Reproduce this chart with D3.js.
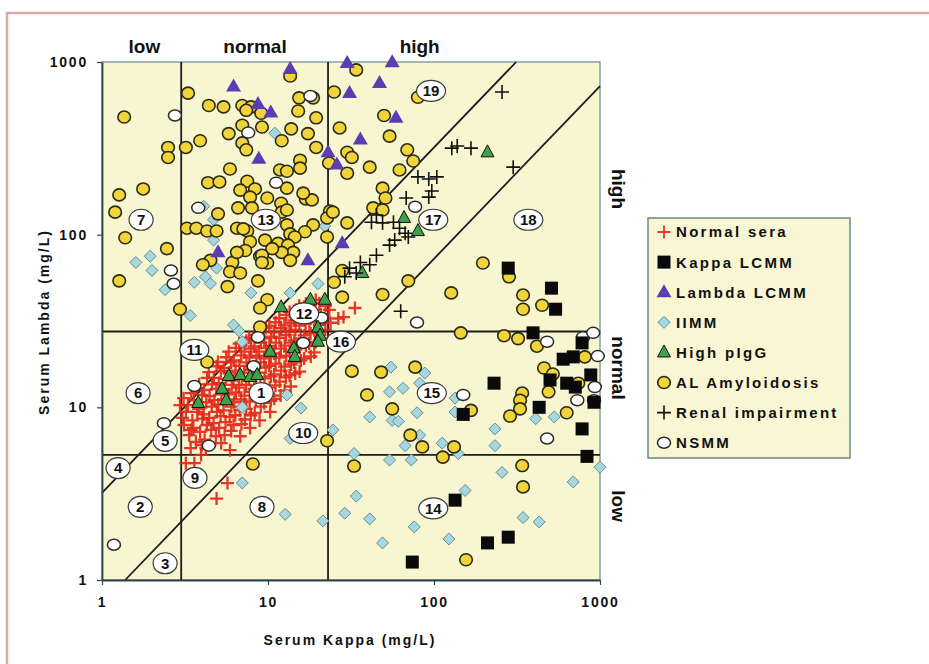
<!DOCTYPE html>
<html>
<head>
<meta charset="utf-8">
<script src="https://cdn.jsdelivr.net/npm/d3@7"></script>
<style>
  body { margin: 0; background: #fff; }
  svg text { font-family: Arial, "Liberation Sans", sans-serif; font-weight: bold; fill: #111; }
</style>
</head>
<body>
<svg width="929" height="664"></svg>
<script>
// values are [serum kappa, serum lambda] in mg/L
const normalSera = [
  [2.95,10.3],[3.05,8.7],
  [3.1,11.3],[3.2,9.4],[3.12,7.9],
  [3.45,12.1],[3.3,10.3],[3.5,8.4],[3.35,6.9],[3.42,5.8],
  [3.7,12.9],[3.58,11.0],[3.75,9.4],[3.55,7.6],[3.68,6.3],[3.6,4.75],
  [3.85,13.6],[4.0,11.8],[3.82,9.8],[4.02,8.6],[3.9,7.2],[3.95,5.3],
  [4.3,14.8],[4.12,12.6],[4.25,10.7],[4.1,9.1],[4.28,7.9],[4.15,6.5],[4.22,5.8],
  [4.4,16],[4.6,13.6],[4.45,11.6],[4.58,10.1],[4.42,8.7],[4.55,7.4],[4.48,6.05],
  [4.9,17.3],[4.72,14.8],[4.88,12.8],[4.75,11.0],[4.92,9.4],[4.7,8.1],[4.85,6.8],
  [5.0,18.3],[5.2,16.2],[5.05,13.8],[5.25,11.9],[5.02,10.4],[5.18,8.9],[5.08,7.6],[5.22,6.2],
  [5.6,19.5],[5.42,16.9],[5.58,14.6],[5.45,12.7],[5.62,11.1],[5.4,9.6],[5.55,8.2],[5.48,6.9],
  [5.8,21],[6.0,18.2],[5.85,15.9],[6.05,13.5],[5.82,11.9],[6.02,10.1],[5.88,8.8],[6.0,7.3],[5.9,5.65],
  [6.4,22.1],[6.22,18.7],[6.38,16.3],[6.2,14.3],[6.42,12.2],[6.25,10.7],[6.35,9.0],[6.2,7.9],
  [6.7,23.4],[6.9,20],[6.72,17.4],[6.95,14.8],[6.68,13],[6.88,11.1],[6.75,9.6],[6.92,8.0],[6.8,6.8],
  [7.4,24.3],[7.2,21],[7.42,18.2],[7.18,15.9],[7.38,13.5],[7.22,11.7],[7.4,9.8],[7.25,8.5],
  [7.7,25.3],[7.92,21.9],[7.72,19.4],[7.95,16.5],[7.68,14.5],[7.9,12.3],[7.75,10.8],[7.88,9.0],[7.8,7.6],
  [8.5,26.3],[8.28,22.5],[8.52,19.9],[8.3,17.2],[8.48,15],[8.25,12.8],[8.45,11.1],[8.32,9.3],
  [8.8,27.4],[9.05,23.7],[8.82,21],[9.02,18.2],[8.85,15.9],[9.0,13.5],[8.78,11.9],[9.05,10.1],[8.9,8.4],
  [9.7,28.9],[9.5,25.1],[9.72,22.1],[9.48,19.2],[9.68,17],[9.52,14.7],[9.7,12.7],[9.5,10.6],
  [10.2,29.7],[10.45,25.7],[10.2,22.7],[10.4,19.7],[10.15,17.4],[10.42,15.1],[10.22,13],[10.4,10.9],[10.3,9.4],
  [11.1,31.1],[10.85,27.2],[11.15,23.7],[10.9,20.5],[11.12,17.9],[10.88,15.5],[11.1,13.4],[10.9,11.2],
  [11.7,32.8],[12.0,28.7],[11.72,25.3],[11.95,21.9],[11.7,19.4],[11.98,16.3],[11.75,14.1],[11.9,11.7],
  [12.9,34.3],[12.55,29.8],[12.85,26.3],[12.6,22.8],[12.88,19.9],[12.58,17.2],[12.8,14.9],[12.6,12.5],
  [13.5,35.7],[13.8,30.9],[13.45,27.4],[13.75,23.7],[13.5,21],[13.78,17.7],[13.48,15.3],[13.7,13.2],
  [14.7,36.7],[14.35,31.9],[14.65,28.1],[14.4,24.4],[14.7,21.6],[14.38,18.2],[14.6,15.7],
  [15.4,38.7],[15.8,33.5],[15.45,29.7],[15.75,25.1],[15.5,22.1],[15.8,18.7],[15.5,16.1],
  [16.9,39.8],[16.5,34.6],[16.85,30.5],[16.55,26.1],[16.9,22.7],[16.5,19.2],
  [17.7,40.9],[18.1,35.5],[17.75,31.1],[18.05,26.8],[17.7,23.4],[18.1,19.7],
  [19.4,41.9],[19.0,36.5],[19.35,32.1],[19.05,27.9],[19.4,23.9],[19.0,20.8],
  [20.4,40.1],[20.8,34.6],[20.45,30],[20.75,25.1],
  [22.2,38.7],[21.8,32.6],[22.15,28.1],
  [23.4,36.7],[23.8,30.9],
  [26.5,32.7],[28.5,33.3],[33.4,37.6],
  [3.2,4.75],[4.9,2.96],[5.7,3.64],[4.0,6.05],[3.45,7.4]
];

const kappaLCMM = [
  [280,64],[510,49],[540,37],[395,27],[780,23.6],[600,19],[690,19.6],[880,15.4],[500,14.4],
  [630,13.8],[710,13.1],[920,10.7],[230,13.8],[430,10],[150,9.1],[780,7.5],[835,5.2],
  [134,2.9],[210,1.64],[280,1.77],[74,1.27]
];

const lambdaLCMM = [
  [6.2,720],[8.7,570],[10.4,510],[8.8,275],[13.6,910],[30,985],[56,995],[31,660],
  [47,755],[59,475],[36,355],[23,300],[26,255],[5.0,79],[17.4,71],[28,89]
];

const iimm = [
  [11,387],[4.1,146],[4.7,122],[4.7,93],[4.9,64],[4.2,57],[4.5,52],[3.6,53],[2.4,48],[3.4,34],
  [1.6,69],[1.95,75],[2.0,62],[7.9,46],[13.6,46],[20,52],[22,112],[6.2,30],[6.7,27.7],[7.0,24],
  [13,11.8],[15.8,9.9],[7.0,10],[24.6,7.4],[13.6,6.6],[7.0,3.65],[12.7,2.4],[21.4,2.2],[29,2.44],
  [55,17.1],[88,15.8],[54,12.3],[65,12.9],[82,13.8],[134,11.3],[79,9.3],[41,8.8],[56,8.4],[61,8.3],
  [134,9.4],[233,7.5],[233,6.0],[410,8.6],[530,8.8],[67,6.0],[82,6.9],[112,6.2],[140,5.4],
  [54,4.95],[73,4.95],[33,5.4],[257,4.2],[690,3.7],[1000,4.5],[34,3.06],[41,2.26],[154,3.3],
  [344,2.3],[430,2.17],[76,2.03],[49,1.64],[123,1.73]
];

const highPIgG = [
  [210,300],[66,125],[80,105],[37,60],[12,38],[18,42],[22,42],[20,29],[20.6,26],[20,24],
  [10.3,21],[14.3,22],[14.5,19.6],[5.8,15.2],[6.8,15.4],[7.8,15],[8.6,15.4],[5.3,12.8],[5.6,11],[3.8,10.6]
];

const alAmyloidosis = [
  [1.36,480],[2.5,320],[2.5,280],[3.2,320],[1.27,170],[1.77,184],[1.2,135],[1.38,96],[2.46,83],[1.27,54],[2.95,37],
  [3.3,660],[4.4,560],[5.4,550],[7.0,560],[7.9,550],[9.1,505],[7.4,525],[13.6,830],[15.4,620],[18.7,620],[15.2,520],[25,670],[19.5,475],[27,415],
  [3.9,350],[5.8,385],[7.0,430],[9.2,420],[7.0,340],[7.4,310],[12.1,350],[13.8,410],[17.4,385],[19.5,320],[15.6,270],[15.6,243],[11.8,237],[13,233],[23.3,260],[30,300],
  [5.9,240],[4.35,200],[5.1,202],[7.5,204],[6.8,181],[8.35,184],[9.9,163],[7.8,165],[12,152],[13,186],[16.9,161],[18.4,159],
  [5.0,132],[6.6,143],[8.0,143],[12.1,135],[13,139],[23.6,137],[22.7,125],[22.7,97],[18.7,114],[16.7,104],[13,114],[13.6,101],[14.5,97],
  [6.5,109],[7.5,105],[7.8,91],[9.6,93],[11.5,89],[13.2,87],[14.2,79],[12.1,79],[10.6,83],[7.3,81],[8.95,75],[9.9,68.5],[13.6,71],
  [3.25,109],[3.7,109],[4.3,105],[4.9,105],[4.5,71],[4.05,67],[6.1,69],[5.9,61],[6.8,60],[5.7,50],[8.7,54],[9.9,42],[25,53],
  [34,900],[50,490],[54,372],[69,310],[32,280],[41,246],[30,227],[62,237],[75,267],[49,186],[51,163],[43,143],[49,139],[30,117],[24.6,135],
  [28,62],[28,43.5],[49,45],[70,54],[127,46],[197,68.5],[80,625],[16.3,174],[7.1,108],[6.5,79],[9.2,76],[9.2,69],[8.95,37.6],[8.95,29.2],[4.3,18.3],[8.1,4.7],[22.7,6.4],
  [283,57],[344,44.7],[344,37],[448,39],[145,27],[264,26],[321,25],[417,22.6],[32,16.2],[48,16],[77,17.1],[460,16.9],[520,15.6],[810,19.6],[740,13.8],[490,12.3],[340,12.1],[330,11],
  [39.5,11.8],[56,9.8],[167,9.6],[630,9.3],[330,9.8],[287,8.9],[72,6.9],[85,5.9],[132,5.9],[113,5.15],[33,4.57],[340,4.6],[344,3.46],[156,1.31]
];

const renalImpairment = [
  [257,670],[128,317],[138,326],[167,317],[300,246],[80,216],[93,210],[104,216],[68,163],[93,165],
  [97,179],[45,130],[42,118],[49,117],[57,118],[62,109],[67,102],[70,97],[58,93],[54,87],[45,76],
  [41,67],[36,69],[31,64],[34,60],[29,57],[63,36]
];

const nsmm = [
  [2.75,490],[7.6,390],[18,635],[11.2,200],[3.8,143],[2.6,62],[2.7,52],[8.7,25.5],[16.3,23.6],[21,33],
  [8.2,17.3],[3.6,13.3],[2.36,8.1],[4.4,6.0],[1.18,1.6],[77,145],[79,31],[790,25.5],[910,27],[480,24],
  [970,19.8],[930,13.1],[730,11],[920,11],[150,11.8],[480,6.6]
];

// reference-range cut-offs and kappa/lambda ratio lines
const kappaCuts = [3.0, 23];
const lambdaCuts = [5.3, 27.5];
const ratioLines = [3.2, 0.725]; // lambda = r * kappa

const tickValues = [1, 10, 100, 1000];
const topLabels = [[1.8, 'low'], [8.35, 'normal'], [82, 'high']];
const sideLabels = [[184, 'high'], [16.9, 'normal'], [2.68, 'low']];

const regionIds = ['1','2','3','4','5','6','7','8','9','10','11','12','13','14','15','16','17','18','19'];
const regionPos = [
  [9.1,12.1],[1.7,2.65],[2.4,1.25],[1.25,4.45],[2.4,6.4],[1.65,12.1],[1.72,122],[9.2,2.65],[3.63,3.9],
  [16.3,7.1],[3.6,21.5],[16.5,35],[9.7,122],[99,2.6],[97,12.1],[27.5,24],[99,122],[370,122],[96,680]
];

const legendLabels = ['Normal sera','Kappa LCMM','Lambda LCMM','IIMM','High pIgG','AL Amyloidosis','Renal impairment','NSMM'];

const svg = d3.select('svg');
const width = +svg.attr('width');
const height = +svg.attr('height');

// outer frame
svg.append('rect')
  .attr('x', 7).attr('y', 13)
  .attr('width', width).attr('height', height)
  .attr('fill', '#fff')
  .attr('stroke', '#d8aaa8')
  .attr('stroke-width', 2.5);

const xScale = d3.scaleLog().domain([1, 1000]).range([102, 600]);
const yScale = d3.scaleLog().domain([1, 1000]).range([580, 62]);
const [x0, x1] = xScale.range();
const [y0, y1] = yScale.range();

svg.append('rect')
  .attr('x', x0).attr('y', y1)
  .attr('width', x1 - x0).attr('height', y0 - y1)
  .attr('fill', '#f8f6d1')
  .attr('stroke', '#86a0a0')
  .attr('stroke-width', 1.5);

// cut-off lines
const lines = svg.append('g').attr('stroke', '#1c1c1c').attr('stroke-width', 1.8);
kappaCuts.forEach(k => lines.append('line')
  .attr('x1', xScale(k)).attr('x2', xScale(k))
  .attr('y1', y0).attr('y2', y1));
lambdaCuts.forEach(l => lines.append('line')
  .attr('x1', x0).attr('x2', x1)
  .attr('y1', yScale(l)).attr('y2', yScale(l)));
ratioLines.forEach(r => {
  const kStart = Math.max(1, 1 / r);
  const kEnd = Math.min(1000, 1000 / r);
  lines.append('line')
    .attr('x1', xScale(kStart)).attr('y1', yScale(r * kStart))
    .attr('x2', xScale(kEnd)).attr('y2', yScale(r * kEnd));
});

// axes
const xAxis = d3.axisBottom(xScale)
  .tickValues(tickValues)
  .tickFormat(d3.format('d'))
  .tickSize(5).tickSizeOuter(0)
  .tickPadding(12);
const yAxis = d3.axisLeft(yScale)
  .tickValues(tickValues)
  .tickFormat(d3.format('d'))
  .tickSize(5).tickSizeOuter(0)
  .tickPadding(9);

const xAxisG = svg.append('g')
  .attr('transform', `translate(0,${y0})`)
  .call(xAxis);
const yAxisG = svg.append('g')
  .attr('transform', `translate(${x0},0)`)
  .call(yAxis);

[xAxisG, yAxisG].forEach(g => {
  g.attr('color', '#2c4646');
  g.select('.domain').attr('stroke-width', 1.8);
  g.selectAll('.tick line').attr('stroke-width', 1.2);
  g.selectAll('text')
    .attr('font-family', 'Arial, "Liberation Sans", sans-serif')
    .attr('font-weight', 'bold')
    .attr('font-size', 14)
    .style('letter-spacing', '1.8px')
    .attr('fill', '#111');
});

svg.append('text')
  .attr('x', 350).attr('y', 645)
  .attr('text-anchor', 'middle')
  .attr('font-size', 14)
  .style('letter-spacing', '2px')
  .text('Serum Kappa (mg/L)');

svg.append('text')
  .attr('transform', 'translate(49,322) rotate(-90)')
  .attr('text-anchor', 'middle')
  .attr('font-size', 14)
  .style('letter-spacing', '2px')
  .text('Serum Lambda (mg/L)');

// range labels
svg.selectAll('.top-label').data(topLabels)
  .enter().append('text')
    .attr('class', 'top-label')
    .attr('x', d => xScale(d[0]))
    .attr('y', 53)
    .attr('text-anchor', 'middle')
    .attr('font-size', 19)
    .text(d => d[1]);

svg.selectAll('.side-label').data(sideLabels)
  .enter().append('text')
    .attr('class', 'side-label')
    .attr('transform', d => `translate(612,${yScale(d[0])}) rotate(90)`)
    .attr('text-anchor', 'middle')
    .attr('font-size', 19)
    .text(d => d[1]);

// marker shapes
const plusPath = s => `M${-s},0H${s}M0,${-s}V${s}`;
const diamondPath = s => `M0,${-s}L${s},0L0,${s}L${-s},0Z`;
const trianglePath = (w, h) => `M0,${-h * 0.62}L${w / 2},${h * 0.38}L${-w / 2},${h * 0.38}Z`;

const markers = {
  'Normal sera': g => g.append('path').attr('d', plusPath(6.5))
    .attr('fill', 'none').attr('stroke', '#e2281a').attr('stroke-width', 2.3).attr('stroke-opacity', 0.92),
  'Kappa LCMM': g => g.append('rect').attr('x', -6.5).attr('y', -6.5).attr('width', 13).attr('height', 13)
    .attr('fill', '#0a0a0a'),
  'Lambda LCMM': g => g.append('path').attr('d', trianglePath(15, 13))
    .attr('fill', '#5a3db0'),
  'IIMM': g => g.append('path').attr('d', diamondPath(6))
    .attr('fill', '#a6d6de').attr('stroke', '#5e8e96').attr('stroke-width', 1),
  'High pIgG': g => g.append('path').attr('d', trianglePath(13, 12))
    .attr('fill', '#3da34a').attr('stroke', '#111').attr('stroke-width', 1),
  'AL Amyloidosis': g => g.append('ellipse').attr('rx', 6.3).attr('ry', 6)
    .attr('fill', '#f0d43a').attr('stroke', '#2a2a1a').attr('stroke-width', 1.6),
  'Renal impairment': g => g.append('path').attr('d', plusPath(7))
    .attr('fill', 'none').attr('stroke', '#111').attr('stroke-width', 1.6),
  'NSMM': g => g.append('ellipse').attr('rx', 6.5).attr('ry', 5.5)
    .attr('fill', '#fff').attr('stroke', '#2a2a2a').attr('stroke-width', 1.5)
};

const seriesOrder = [
  ['Normal sera', normalSera],
  ['IIMM', iimm],
  ['AL Amyloidosis', alAmyloidosis],
  ['NSMM', nsmm],
  ['Kappa LCMM', kappaLCMM],
  ['Lambda LCMM', lambdaLCMM],
  ['High pIgG', highPIgG],
  ['Renal impairment', renalImpairment]
];

const points = svg.append('g');
seriesOrder.forEach(([name, data]) => {
  points.append('g').selectAll('g').data(data)
    .enter().append('g')
      .attr('transform', d => `translate(${xScale(d[0])},${yScale(d[1])})`)
      .each(function () { markers[name](d3.select(this)); });
});

// region numbers
const regions = svg.append('g').selectAll('g').data(regionIds)
  .enter().append('g')
    .attr('transform', (d, i) => `translate(${xScale(regionPos[i][0])},${yScale(regionPos[i][1])})`);
regions.append('ellipse')
  .attr('rx', d => d.length > 1 ? 14.5 : 12)
  .attr('ry', 10.5)
  .attr('fill', '#fff')
  .attr('stroke', '#3a3a3a')
  .attr('stroke-width', 1.2);
regions.append('text')
  .attr('text-anchor', 'middle')
  .attr('dy', '0.36em')
  .attr('font-size', 15)
  .text(d => d);

// legend
const legend = svg.append('g').attr('transform', 'translate(648,218)');
legend.append('rect')
  .attr('width', 202).attr('height', 240)
  .attr('fill', '#f8f6d3')
  .attr('stroke', '#6c8888')
  .attr('stroke-width', 1.5);
const legendItems = legend.selectAll('.item').data(legendLabels)
  .enter().append('g')
    .attr('class', 'item')
    .attr('transform', (d, i) => `translate(16,${14 + i * 30.1})`);
legendItems.each(function (d) { markers[d](d3.select(this)); });
legendItems.select('path')
  .filter(d => d === 'Normal sera')
  .attr('stroke-width', 1.8);
legendItems.append('text')
  .attr('x', 12)
  .attr('dy', '0.36em')
  .attr('font-size', 15)
  .style('letter-spacing', '2.3px')
  .text(d => d);
</script>
</body>
</html>
